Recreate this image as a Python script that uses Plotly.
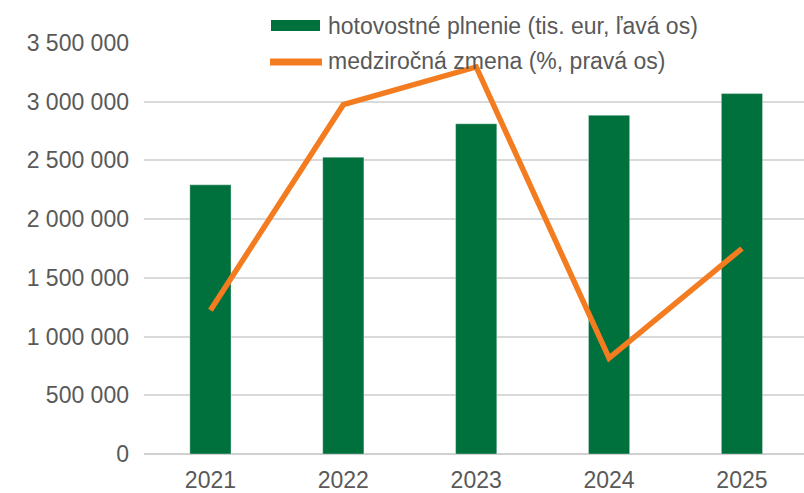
import plotly.graph_objects as go

years = ["2021", "2022", "2023", "2024", "2025"]
plnenie = [2292000, 2527000, 2812000, 2885000, 3069000]   # tis. eur, lava os
zmena = [4.2, 10.2, 11.3, 2.8, 6.0]                         # %, prava os

GREEN = "#00703c"
ORANGE = "#f47c20"
GREY = "#595959"
FONT = "Liberation Sans, Arial, sans-serif"
FS = 23

W, H = 804, 493
L, R, T, B = 144, 0, 43, 37


def px(x):
    return (x - L) / (W - L - R)


def py(y):
    return (H - B - y) / (H - T - B)


fig = go.Figure()

fig.add_trace(go.Bar(
    x=years, y=plnenie,
    name="hotovostné plnenie (tis. eur, ľavá os)",
    marker=dict(color=GREEN, line=dict(color="rgba(255,255,255,0.35)", width=1)),
    showlegend=False,
))

fig.add_trace(go.Scatter(
    x=years, y=zmena, yaxis="y2",
    mode="lines",
    name="medziročná zmena (%, pravá os)",
    line=dict(color=ORANGE, width=5.5),
    showlegend=False,
))

# legend drawn by hand (wide key symbols like the original)
fig.add_shape(type="rect", xref="paper", yref="paper",
              x0=px(271), x1=px(320), y0=py(31), y1=py(20),
              fillcolor=GREEN, line=dict(width=0), layer="above")
fig.add_shape(type="line", xref="paper", yref="paper",
              x0=px(270), x1=px(322), y0=py(62), y1=py(62),
              line=dict(color=ORANGE, width=7), layer="above")
fig.add_annotation(text="hotovostné plnenie (tis. eur, ľavá os)",
                   xref="paper", yref="paper", x=px(326), y=py(26),
                   xanchor="left", yanchor="middle", showarrow=False,
                   font=dict(size=FS, color=GREY, family=FONT))
fig.add_annotation(text="medziročná zmena (%, pravá os)",
                   xref="paper", yref="paper", x=px(326), y=py(61),
                   xanchor="left", yanchor="middle", showarrow=False,
                   font=dict(size=FS, color=GREY, family=FONT))

fig.update_layout(
    width=W, height=H,
    margin=dict(l=L, r=R, t=T, b=B),
    paper_bgcolor="white",
    plot_bgcolor="white",
    separators=", ",
    font=dict(family=FONT, size=FS, color=GREY),
    bargap=0.69,
    xaxis=dict(
        type="category",
        range=[-0.5, 4.467],
        showgrid=False,
        showline=False,
        ticks="",
        ticklabelstandoff=10,
        tickfont=dict(size=FS, color=GREY),
    ),
    yaxis=dict(
        range=[0, 3500000],
        dtick=500000,
        tickformat=",d",
        showgrid=True,
        gridcolor="#d9d9d9",
        gridwidth=1.5,
        zeroline=True,
        zerolinecolor="#d0d0d0",
        zerolinewidth=2,
        showline=False,
        ticks="",
        ticklabelstandoff=14,
        tickfont=dict(size=FS, color=GREY),
    ),
    yaxis2=dict(
        overlaying="y",
        side="right",
        range=[0, 12],
        showgrid=False,
        zeroline=False,
        showticklabels=False,
        ticks="",
    ),
)

# the page's default body margin would push the chart 8px down/right
fig.write_html("out.html", config={"displayModeBar": False},
               post_script="document.body.style.margin='0';")
